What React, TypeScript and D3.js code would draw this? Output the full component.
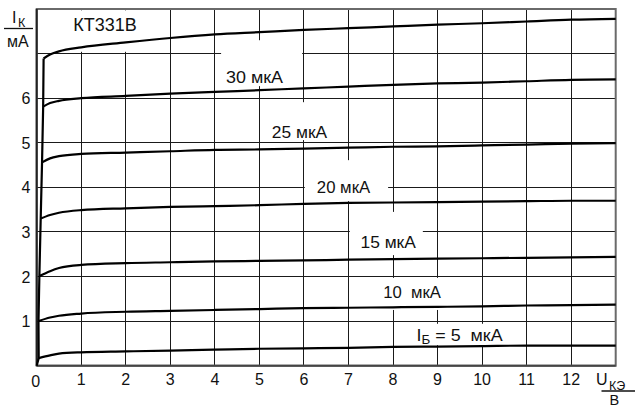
import React from "react";
import * as d3 from "d3";

// ---- data (U_KE in V, I_K in mA) ----
const xTicks = [0, 1, 2, 3, 4, 5, 6, 7, 8, 9, 10, 11, 12];
const yTicks = [1, 2, 3, 4, 5, 6];
const baseCurrents = ["35", "30", "25", "20", "15", "10", "5"];
const curveU = [0, 0.3, 0.5, 1, 2, 3, 4, 5, 6, 7, 8, 9, 10, 11, 12, 13];
const curveStartU = [0.155, 0.145, 0.12, 0.09, 0.06, 0.04, 0.045];
const ib35 = [6.89, 6.98, 7.05, 7.14, 7.25, 7.35, 7.43, 7.48, 7.53, 7.57, 7.61, 7.65, 7.68, 7.72, 7.76, 7.78];
const ib30 = [5.81, 5.89, 5.94, 6.0, 6.05, 6.1, 6.14, 6.18, 6.22, 6.26, 6.3, 6.33, 6.35, 6.38, 6.41, 6.42];
const ib25 = [4.56, 4.65, 4.7, 4.75, 4.78, 4.81, 4.84, 4.85, 4.87, 4.89, 4.91, 4.92, 4.94, 4.96, 4.98, 4.99];
const ib20 = [3.3, 3.38, 3.43, 3.49, 3.53, 3.56, 3.58, 3.6, 3.63, 3.65, 3.66, 3.67, 3.68, 3.69, 3.7, 3.7];
const ib15 = [2.01, 2.12, 2.19, 2.26, 2.3, 2.32, 2.34, 2.35, 2.36, 2.38, 2.39, 2.4, 2.41, 2.42, 2.43, 2.44];
const ib10 = [1.0, 1.08, 1.12, 1.17, 1.21, 1.23, 1.25, 1.27, 1.29, 1.3, 1.31, 1.32, 1.33, 1.35, 1.36, 1.37];
const ib5 = [0.17, 0.23, 0.27, 0.3, 0.32, 0.34, 0.36, 0.38, 0.39, 0.4, 0.42, 0.43, 0.44, 0.45, 0.45, 0.45];
const seriesI = [ib35, ib30, ib25, ib20, ib15, ib10, ib5];
const curveLabels = ["", "30 мкА", "25 мкА", "20 мкА", "15 мкА", "10  мкА", "5  мкА"];
const titleText = "КТ331В";

// ---- layout ----
const W = 642, H = 418;
const x = d3.scaleLinear().domain([0, 13]).range([36.7, 615.7]);
const y = d3.scaleLinear().domain([0, 8]).range([365.7, 9]);
const FONT = "'Liberation Sans', Arial, sans-serif";

// label anchors (data units: left U, baseline I) and rendered widths (px)
const labelPos = [null, [4.25, 6.34], [5.28, 5.1], [6.29, 3.87], [7.27, 2.63], [7.78, 1.51], [8.53, 0.56]];
const labelLen = [0, 57, 55.3, 53.3, 55.3, 57.7, 86];
// white masks behind labels (data units: u0,u1,i0,i1)
const masks = [
  [0.07, 2.88, 7.04, 7.97],
  [4.14, 5.96, 6.27, 7.3],
  [5.06, 6.92, 5.06, 5.91],
  [6.02, 7.89, 3.69, 4.61],
  [7.03, 8.67, 2.48, 3.45],
  [7.62, 9.19, 1.25, 1.97],
  [8.27, 10.74, 0.46, 0.94],
];

export default function App() {
  const line = d3
    .line<[number, number]>()
    .x((d) => x(d[0]))
    .y((d) => y(d[1]))
    .curve(d3.curveMonotoneX);
  const straight = d3
    .line<[number, number]>()
    .x((d) => x(d[0]))
    .y((d) => y(d[1]));

  const curves = seriesI.map((vals, k) =>
    vals.map((v, i) => [i === 0 ? curveStartU[k] : curveU[i], v] as [number, number])
  );
  const steep: [number, number][] = [[0, 0]];
  for (let k = seriesI.length - 1; k >= 0; k--) steep.push([curveStartU[k], seriesI[k][0]]);
  steep.sort((a, b) => a[1] - b[1]);

  return (
    <svg width={W} height={H} style={{ position: "absolute", left: 0, top: 0, background: "#fff" }} fontFamily={FONT}>
      <rect x={0} y={0} width={W} height={H} fill="#fff" />
      {/* grid */}
      <g stroke="#1a1a1a" strokeWidth={1} shapeRendering="crispEdges">
        {xTicks.slice(1).map((t) => (
          <line key={"gx" + t} x1={x(t)} x2={x(t)} y1={y(0)} y2={y(8)} />
        ))}
        {[1, 2, 3, 4, 5, 6, 7].map((t) => (
          <line key={"gy" + t} x1={x(0)} x2={x(13)} y1={y(t)} y2={y(t)} />
        ))}
      </g>
      {/* label masks */}
      <g fill="#fff">
        {masks.map((m, i) => (
          <rect key={"m" + i} x={x(m[0])} y={y(m[3])} width={x(m[1]) - x(m[0])} height={y(m[2]) - y(m[3])} />
        ))}
      </g>
      {/* frame */}
      <rect x={x(0)} y={y(8)} width={x(13) - x(0)} height={y(0) - y(8)} fill="none" stroke="#6a6a6a" strokeWidth={2} />
      <line x1={x(0)} x2={x(0)} y1={y(0)} y2={y(8)} stroke="#222" strokeWidth={2} />
      <line x1={x(0)} x2={x(13)} y1={y(0)} y2={y(0)} stroke="#444" strokeWidth={2} />
      {/* curves */}
      <g fill="none" stroke="#000" strokeWidth={2.2}>
        <path d={straight(steep) || ""} />
        {curves.map((c, i) => (
          <path key={"c" + baseCurrents[i]} d={line(c) || ""} />
        ))}
      </g>
      {/* tick labels */}
      <g fontSize={16} fill="#111">
        {xTicks.map((t) => (
          <text key={"tx" + t} x={x(t) - (t === 0 ? 1 : 0)} y={t === 0 ? 386.5 : 384.5} textAnchor="middle">
            {t}
          </text>
        ))}
        {yTicks.map((t) => (
          <text key={"ty" + t} x={26} y={y(t) + 6} textAnchor="middle">
            {t}
          </text>
        ))}
      </g>
      {/* title */}
      <text x={x(0) + 36.5} y={31} fontSize={18} fill="#111">
        {titleText}
      </text>
      {/* curve labels */}
      <g fontSize={16} fill="#111">
        {curveLabels.map((lab, i) => {
          const p = labelPos[i];
          if (!p || !lab) return null;
          if (i === curveLabels.length - 1) {
            return (
              <text key={"l" + i} x={x(p[0])} y={y(p[1])} style={{ whiteSpace: "pre" }} textLength={labelLen[i]} lengthAdjust="spacingAndGlyphs">
                <tspan>I</tspan>
                <tspan fontSize={12} dy={3}>Б</tspan>
                <tspan dy={-3}>{" = " + lab}</tspan>
              </text>
            );
          }
          return (
            <text key={"l" + i} x={x(p[0])} y={y(p[1])} style={{ whiteSpace: "pre" }} textLength={labelLen[i]} lengthAdjust="spacingAndGlyphs">
              {lab}
            </text>
          );
        })}
      </g>
      {/* y axis unit */}
      <g fill="#111">
        <text x={12} y={22.7} fontSize={16}>
          I
        </text>
        <text x={18} y={27} fontSize={12.5}>
          К
        </text>
        <line x1={4} x2={33} y1={28.5} y2={28.5} stroke="#111" strokeWidth={1.3} />
        <text x={7} y={47} fontSize={16}>
          мА
        </text>
      </g>
      {/* x axis unit */}
      <g fill="#111">
        <text x={596} y={385} fontSize={16}>
          U
        </text>
        <text x={609} y={389.5} fontSize={12.5}>
          КЭ
        </text>
        <line x1={601.5} x2={635} y1={391} y2={391} stroke="#111" strokeWidth={1.3} />
        <text x={609.5} y={405} fontSize={14.5}>
          В
        </text>
      </g>
    </svg>
  );
}
